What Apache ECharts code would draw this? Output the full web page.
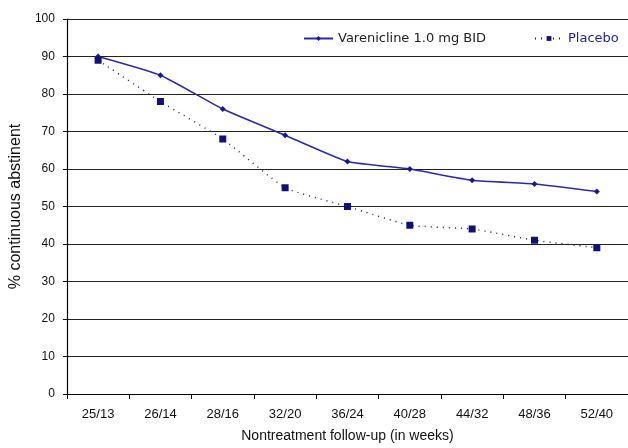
<!DOCTYPE html>
<html><head><meta charset="utf-8">
<script src="https://cdn.jsdelivr.net/npm/echarts@6/dist/echarts.min.js"></script>
<style>html,body{margin:0;padding:0;background:#fff}#c{width:628px;height:448px}</style>
</head><body><div id="c"></div>
<script>
const categories = ['25/13','26/14','28/16','32/20','36/24','40/28','44/32','48/36','52/40'];
const varenicline = [90, 85, 76, 69, 62, 60, 57, 56, 54];
const placebo = [89, 78, 68, 55, 50, 45, 44, 41, 39];
const seriesNames = ['Varenicline 1.0 mg BID', 'Placebo'];

const chart = echarts.init(document.getElementById('c'));
const font = 'Liberation Sans, Arial, sans-serif';
const legendFont = 'DejaVu Sans, Verdana, sans-serif';
chart.setOption({
  animation: false,
  backgroundColor: '#fff',
  grid: {left: 65, right: 0, top: 19, bottom: 49},
  legend: [
    {data: [seriesNames[0]], left: 303, top: 32, padding: 0, itemWidth: 29, itemHeight: 6, itemGap: 5,
     textStyle: {fontFamily: legendFont, fontSize: 13, color: '#222'}},
    {data: [seriesNames[1]], left: 534, top: 32, padding: 0, itemWidth: 28, itemHeight: 6, itemGap: 0,
     textStyle: {fontFamily: legendFont, fontSize: 13, color: '#1f1f9c'}}
  ],
  xAxis: {
    type: 'category', data: categories, boundaryGap: true,
    name: 'Nontreatment follow-up (in weeks)', nameLocation: 'middle', nameGap: 35,
    nameTextStyle: {fontFamily: font, fontSize: 14, color: '#111'},
    axisLine: {lineStyle: {color: '#000', width: 1.2}},
    axisTick: {show: true, length: 5, lineStyle: {color: '#000'}},
    axisLabel: {fontFamily: font, fontSize: 13, color: '#111', margin: 14}
  },
  yAxis: {
    type: 'value', min: 0, max: 100, interval: 10,
    name: '% continuous abstinent', nameLocation: 'middle', nameGap: 37,
    nameTextStyle: {fontFamily: font, fontSize: 16, color: '#111'},
    axisLine: {show: true, lineStyle: {color: '#000', width: 1.2}},
    axisTick: {show: true, length: 4, lineStyle: {color: '#000'}},
    axisLabel: {fontFamily: font, fontSize: 12, color: '#111', margin: 12},
    splitLine: {lineStyle: {color: '#222', width: 1.2}}
  },
  series: [
    {name: seriesNames[0], type: 'line', data: varenicline,
     symbol: 'diamond', symbolSize: 6, smooth: 0.15,
     lineStyle: {color: '#2a2aa8', width: 1.5},
     itemStyle: {color: '#1a1a8c'}},
    {name: seriesNames[1], type: 'line', data: placebo,
     symbol: 'rect', symbolSize: 7, smooth: 0.15,
     lineStyle: {color: '#1a1a8c', width: 1.5, type: [1, 5]},
     itemStyle: {color: '#10107a'}}
  ]
});
</script></body></html>
